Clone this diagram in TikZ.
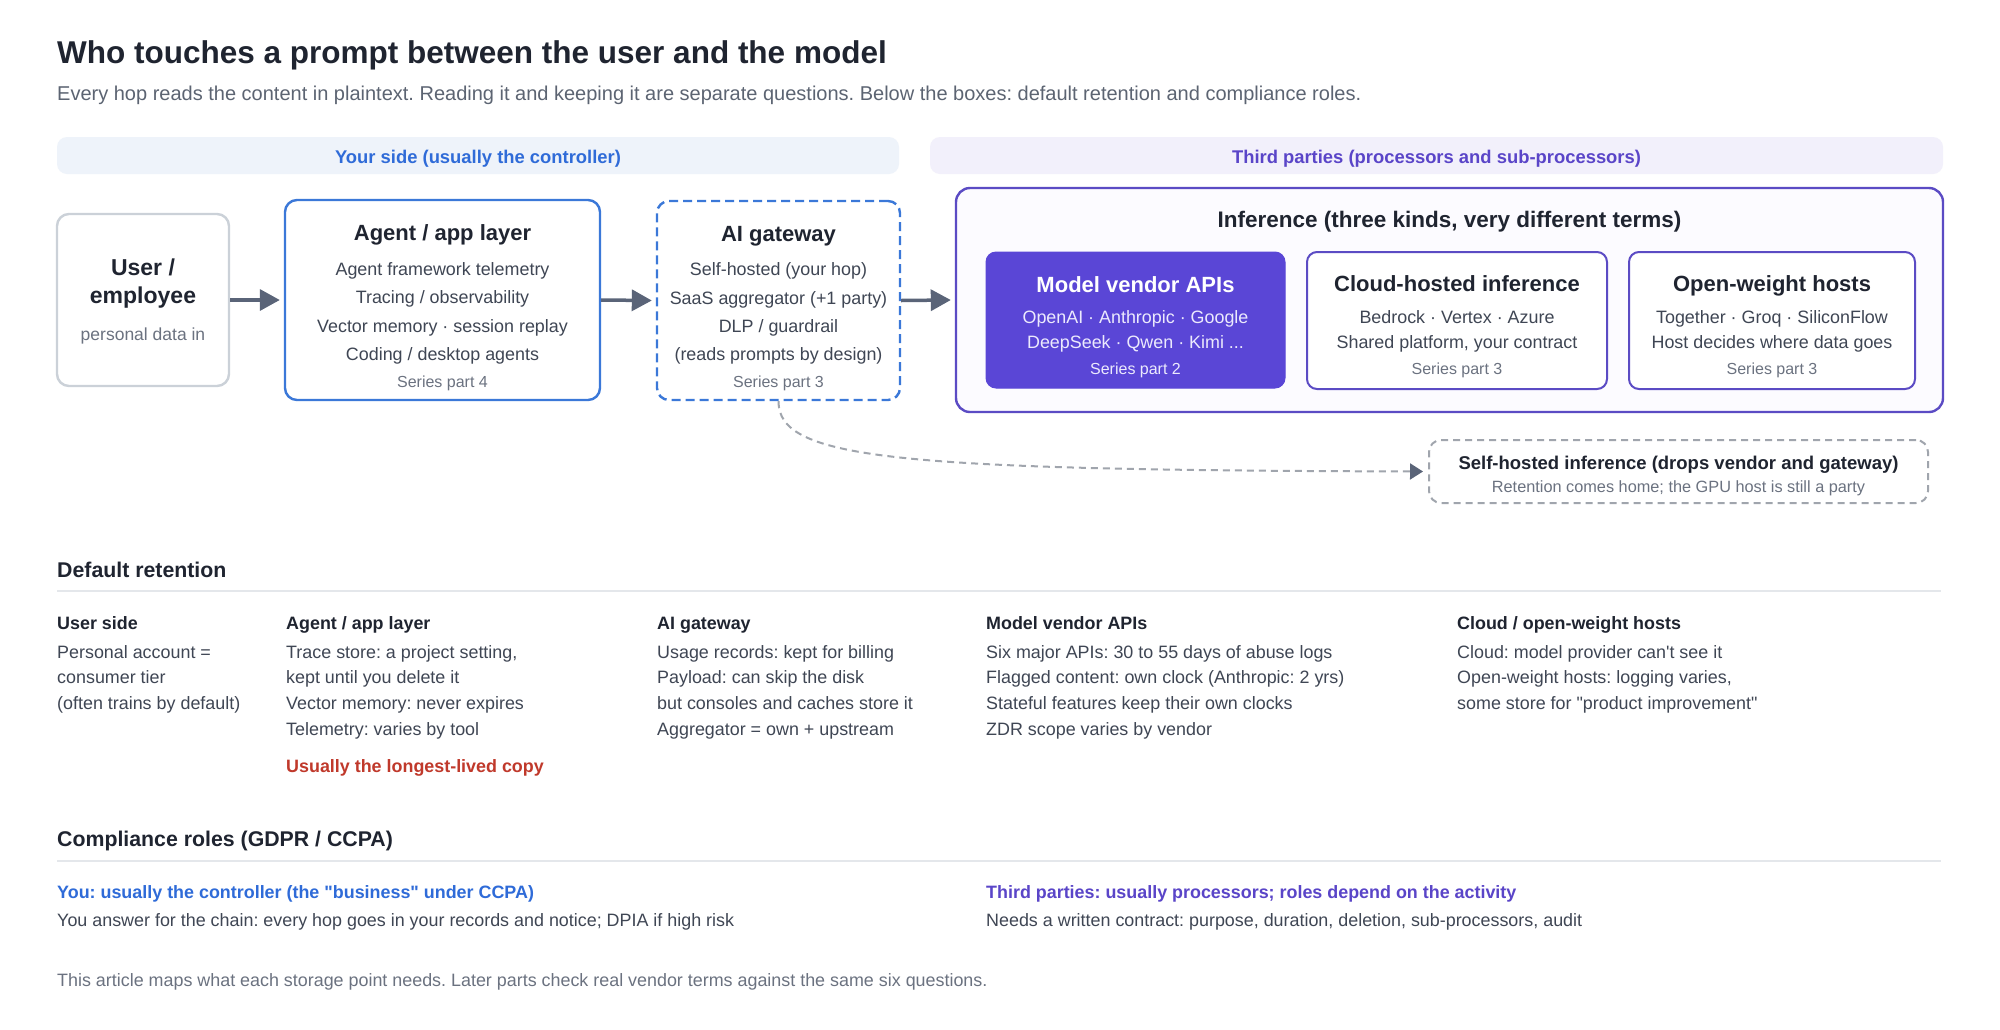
\documentclass[tikz,border=0pt]{standalone}
\usepackage{fontspec}
\setmainfont{Liberation Sans}[Ligatures=TeXOff]
\usetikzlibrary{arrows.meta,positioning,calc}
\usepackage{xcolor}
\frenchspacing

\definecolor{ink}{HTML}{1F2430}
\definecolor{bodyc}{HTML}{3F4654}
\definecolor{muted}{HTML}{6B7280}
\definecolor{subc}{HTML}{5C6472}
\definecolor{blueline}{HTML}{3B78D8}
\definecolor{bluetext}{HTML}{2F6BD8}
\definecolor{bandblue}{HTML}{EEF3FA}
\definecolor{bandpurple}{HTML}{F2F0FB}
\definecolor{purp}{HTML}{5B4BC4}
\definecolor{purpfill}{HTML}{5A46D6}
\definecolor{purptext}{HTML}{5A45C8}
\definecolor{lavtext}{HTML}{ECEAFD}
\definecolor{userline}{HTML}{CBD1D8}
\definecolor{arrowc}{HTML}{5A6478}
\definecolor{dashgray}{HTML}{A0A5AD}
\definecolor{redc}{HTML}{C0392B}
\definecolor{rulec}{HTML}{E4E7EB}
\definecolor{infill}{HTML}{FCFBFF}

\begin{document}
\begin{tikzpicture}[x=1pt,y=-1pt,
    box/.style={rounded corners=12,line width=2.4,inner sep=0},
    band/.style={rounded corners=10,inner sep=0},
    lbl/.style={anchor=base west,inner sep=0},
    ctr/.style={anchor=base,inner sep=0},
    fbody/.style={font=\fontsize{17.9}{20}\selectfont},
    fhead/.style={font=\fontsize{17.9}{20}\selectfont\bfseries},
    fbox/.style={font=\fontsize{22}{26}\selectfont\bfseries},
    fsmall/.style={font=\fontsize{16}{19}\selectfont},
    flow/.style={line width=3.5,arrowc,-{Triangle[length=20,width=21]}},
    dashflow/.style={line width=2,dashgray,dash pattern=on 7 off 5,
        -{Triangle[length=13,width=16,color=arrowc]}}]
    \useasboundingbox (0,0) rectangle (2000,1029);
    \fill[white] (0,0) rectangle (2000,1029);
    % Heading
    \node[lbl,text=ink,font=\fontsize{31.5}{36}\selectfont\bfseries] (title) at (57,63) {Who touches a prompt between the user and the model};
    \node[lbl,text=subc,font=\fontsize{20}{23}\selectfont] (subtitle) at (57,100) {Every hop reads the content in plaintext. Reading it and keeping it are separate questions. Below the boxes: default retention and compliance roles.};
    % Side bands
    \node[band,fill=bandblue,minimum width=842,minimum height=37] (ourband) at (478,155.5) {};
    \node[ctr,text=bluetext,font=\fontsize{18.4}{22}\selectfont\bfseries] (ourtxt) at (478,163) {Your side (usually the controller)};
    \node[band,fill=bandpurple,minimum width=1013,minimum height=37] (thirdband) at (1436.5,155.5) {};
    \node[ctr,text=purptext,font=\fontsize{18.4}{22}\selectfont\bfseries] (thirdtxt) at (1436.5,163) {Third parties (processors and sub-processors)};
    % User
    \node[box,draw=userline,minimum width=172,minimum height=172] (user) at (143,300) {};
    \node[ctr,text=ink,font=\fontsize{23}{26}\selectfont\bfseries] (userT1) at (143,275) {User /};
    \node[ctr,text=ink,font=\fontsize{23}{26}\selectfont\bfseries] (userT2) at (143,303) {employee};
    \node[ctr,text=muted,font=\fontsize{17.5}{20}\selectfont] (userS) at (143,340) {personal data in};
    % Agent / app layer
    \node[box,draw=blueline,minimum width=315,minimum height=200] (agent) at (442.5,300) {};
    \node[ctr,text=ink,fbox] (agentT) at (442.5,240) {Agent / app layer};
    \node[ctr,text=bodyc,fbody] (agentL1) at (442.5,275) {Agent framework telemetry};
    \node[ctr,text=bodyc,fbody] (agentL2) at (442.5,303) {Tracing / observability};
    \node[ctr,text=bodyc,fbody] (agentL3) at (442.5,332) {Vector memory · session replay};
    \node[ctr,text=bodyc,fbody] (agentL4) at (442.5,360) {Coding / desktop agents};
    \node[ctr,text=muted,fsmall] (agentS) at (442.5,387) {Series part 4};
    % AI gateway
    \node[box,draw=blueline,dash pattern=on 9 off 5,minimum width=243,minimum height=199] (gate) at (778.5,300.5) {};
    \node[ctr,text=ink,fbox] (gateT) at (778.5,241) {AI gateway};
    \node[ctr,text=bodyc,fbody] (gateL1) at (778.5,275) {Self-hosted (your hop)};
    \node[ctr,text=bodyc,fbody] (gateL2) at (778.5,304) {SaaS aggregator (+1 party)};
    \node[ctr,text=bodyc,fbody] (gateL3) at (778.5,332) {DLP / guardrail};
    \node[ctr,text=bodyc,fbody] (gateL4) at (778.5,360) {(reads prompts by design)};
    \node[ctr,text=muted,fsmall] (gateS) at (778.5,387) {Series part 3};
    % Inference group
    \node[box,draw=purp,fill=infill,rounded corners=14,minimum width=987,minimum height=224] (infer) at (1449.5,300) {};
    \node[ctr,text=ink,font=\fontsize{22.5}{26}\selectfont\bfseries] (inferT) at (1449.5,227) {Inference (three kinds, very different terms)};
    \node[box,draw=purpfill,fill=purpfill,rounded corners=10,line width=1,minimum width=299,minimum height=136] (vendor) at (1135.5,320) {};
    \node[ctr,text=white,fbox] (vendorT) at (1135.5,292) {Model vendor APIs};
    \node[ctr,text=lavtext,fbody] (vendorL1) at (1135.5,323) {OpenAI · Anthropic · Google};
    \node[ctr,text=lavtext,fbody] (vendorL2) at (1135.5,348) {DeepSeek · Qwen · Kimi ...};
    \node[ctr,text=lavtext,fsmall] (vendorS) at (1135.5,374) {Series part 2};
    \node[box,draw=purp,fill=white,rounded corners=10,line width=2,minimum width=300,minimum height=137] (cloud) at (1457,320.5) {};
    \node[ctr,text=ink,fbox] (cloudT) at (1457,291) {Cloud-hosted inference};
    \node[ctr,text=bodyc,fbody] (cloudL1) at (1457,323) {Bedrock · Vertex · Azure};
    \node[ctr,text=bodyc,fbody] (cloudL2) at (1457,348) {Shared platform, your contract};
    \node[ctr,text=muted,fsmall] (cloudS) at (1457,374) {Series part 3};
    \node[box,draw=purp,fill=white,rounded corners=10,line width=2,minimum width=286,minimum height=137] (openw) at (1772,320.5) {};
    \node[ctr,text=ink,fbox] (openwT) at (1772,291) {Open-weight hosts};
    \node[ctr,text=bodyc,fbody] (openwL1) at (1772,323) {Together · Groq · SiliconFlow};
    \node[ctr,text=bodyc,fbody] (openwL2) at (1772,348) {Host decides where data goes};
    \node[ctr,text=muted,fsmall] (openwS) at (1772,374) {Series part 3};
    % Self-hosted option
    \node[box,draw=dashgray,line width=2,dash pattern=on 7 off 5,minimum width=499,minimum height=63] (selfh) at (1678.5,471.5) {};
    \node[ctr,text=ink,font=\fontsize{18.5}{22}\selectfont\bfseries] (selfhT) at (1678.5,469) {Self-hosted inference (drops vendor and gateway)};
    \node[ctr,text=muted,font=\fontsize{16.3}{19}\selectfont] (selfhS) at (1678.5,492) {Retention comes home; the GPU host is still a party};
    % Flow
    \draw[flow] (user.east) -- ([xshift=-4]agent.west);
    \draw[flow] (agent.east) -- ([xshift=-4]gate.west);
    \draw[flow] (gate.east) -- ([xshift=-4]infer.west);
    \draw[dashflow] (gate.south) .. controls (778,460) and (900,470) .. ([xshift=-5]selfh.west);
    % Default retention
    \node[lbl,text=ink,font=\fontsize{21.3}{24}\selectfont\bfseries] (rethd) at (57,577) {Default retention};
    \draw[rulec,line width=1.5] (57,591) -- (1941,591);
    \node[lbl,text=ink,fhead] (retU) at (57,629) {User side};
    \node[lbl,text=bodyc,fbody] (retU1) at (57,658) {Personal account =};
    \node[lbl,text=bodyc,fbody] (retU2) at (57,683) {consumer tier};
    \node[lbl,text=bodyc,fbody] (retU3) at (57,709) {(often trains by default)};
    \node[lbl,text=ink,fhead] (retA) at (286,629) {Agent / app layer};
    \node[lbl,text=bodyc,fbody] (retA1) at (286,658) {Trace store: a project setting,};
    \node[lbl,text=bodyc,fbody] (retA2) at (286,683) {kept until you delete it};
    \node[lbl,text=bodyc,fbody] (retA3) at (286,709) {Vector memory: never expires};
    \node[lbl,text=bodyc,fbody] (retA4) at (286,735) {Telemetry: varies by tool};
    \node[lbl,text=redc,fhead] (retA5) at (286,772) {Usually the longest-lived copy};
    \node[lbl,text=ink,fhead] (retG) at (657,629) {AI gateway};
    \node[lbl,text=bodyc,fbody] (retG1) at (657,658) {Usage records: kept for billing};
    \node[lbl,text=bodyc,fbody] (retG2) at (657,683) {Payload: can skip the disk};
    \node[lbl,text=bodyc,fbody] (retG3) at (657,709) {but consoles and caches store it};
    \node[lbl,text=bodyc,fbody] (retG4) at (657,735) {Aggregator = own + upstream};
    \node[lbl,text=ink,fhead] (retV) at (986,629) {Model vendor APIs};
    \node[lbl,text=bodyc,fbody] (retV1) at (986,658) {Six major APIs: 30 to 55 days of abuse logs};
    \node[lbl,text=bodyc,fbody] (retV2) at (986,683) {Flagged content: own clock (Anthropic: 2 yrs)};
    \node[lbl,text=bodyc,fbody] (retV3) at (986,709) {Stateful features keep their own clocks};
    \node[lbl,text=bodyc,fbody] (retV4) at (986,735) {ZDR scope varies by vendor};
    \node[lbl,text=ink,fhead] (retC) at (1457,629) {Cloud / open-weight hosts};
    \node[lbl,text=bodyc,fbody] (retC1) at (1457,658) {Cloud: model provider can't see it};
    \node[lbl,text=bodyc,fbody] (retC2) at (1457,683) {Open-weight hosts: logging varies,};
    \node[lbl,text=bodyc,fbody] (retC3) at (1457,709) {some store for "product improvement"};
    % Compliance roles
    \node[lbl,text=ink,font=\fontsize{21.3}{24}\selectfont\bfseries] (comphd) at (57,846) {Compliance roles (GDPR / CCPA)};
    \draw[rulec,line width=1.5] (57,861) -- (1941,861);
    \node[lbl,text=bluetext,fhead] (compY) at (57,898) {You: usually the controller (the "business" under CCPA)};
    \node[lbl,text=bodyc,fbody] (compY1) at (57,926) {You answer for the chain: every hop goes in your records and notice; DPIA if high risk};
    \node[lbl,text=purptext,fhead] (compT) at (986,898) {Third parties: usually processors; roles depend on the activity};
    \node[lbl,text=bodyc,fbody] (compT1) at (986,926) {Needs a written contract: purpose, duration, deletion, sub-processors, audit};
    \node[lbl,text=muted,fbody] (footer) at (57,986) {This article maps what each storage point needs. Later parts check real vendor terms against the same six questions.};
\end{tikzpicture}
\end{document}
